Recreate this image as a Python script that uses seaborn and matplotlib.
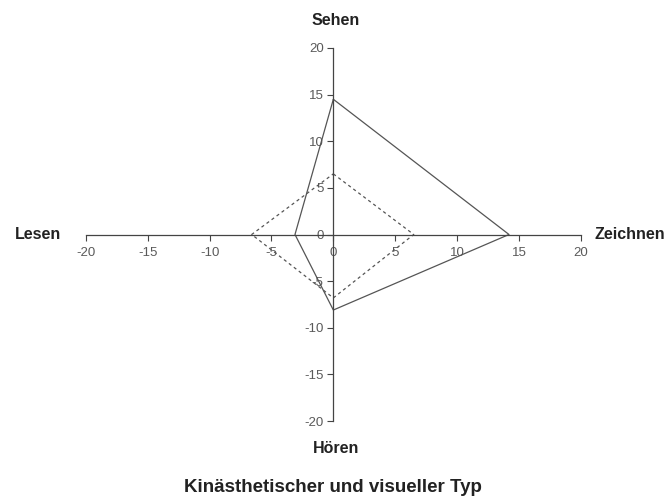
import numpy as np
import pandas as pd
import matplotlib
matplotlib.use('Agg')
import matplotlib.pyplot as plt
import seaborn as sns

# data: four axes of the diagram
categories = ['Sehen', 'Zeichnen', 'Hören', 'Lesen']
kinaesthetisch = [14.5, 14.2, 8.1, 3.1]   # solid line
visuell = [6.5, 6.5, 6.8, 6.6]            # dashed line
ticks = [-20, -15, -10, -5, 0, 5, 10, 15, 20]
title = 'Kinästhetischer und visueller Typ'

# direction of each category axis (up, right, down, left)
dirs = {'Sehen': (0, 1), 'Zeichnen': (1, 0), 'Hören': (0, -1), 'Lesen': (-1, 0)}


def to_frame(values, name):
    rows = []
    for i, (cat, v) in enumerate(zip(categories + categories[:1], values + values[:1])):
        dx, dy = dirs[cat]
        rows.append({'x': dx * v, 'y': dy * v, 'order': i, 'serie': name})
    return pd.DataFrame(rows)


df = pd.concat([to_frame(kinaesthetisch, 'kin'), to_frame(visuell, 'vis')])

sns.set_style('white')
plt.rcParams['font.family'] = ['Liberation Sans', 'DejaVu Sans']
plt.rcParams['axes.unicode_minus'] = False

fig = plt.figure(figsize=(6.66, 5), dpi=100)
ax = fig.add_axes([0.129, 0.158, 0.743, 0.746])

sns.lineplot(data=df[df.serie == 'kin'], x='x', y='y', sort=False, estimator=None,
             color='#555555', linewidth=0.9, ax=ax)
sns.lineplot(data=df[df.serie == 'vis'], x='x', y='y', sort=False, estimator=None,
             color='#555555', linewidth=0.9, linestyle=(0, (2.5, 2.5)), ax=ax)

ax.set_xlim(-20, 20)
ax.set_ylim(-20, 20)
ax.set_xticks(ticks)
ax.set_yticks(ticks)
ax.set_xlabel('')
ax.set_ylabel('')

for s in ['top', 'right']:
    ax.spines[s].set_visible(False)
ax.spines['left'].set_position(('data', 0))
ax.spines['bottom'].set_position(('data', 0))
for s in ['left', 'bottom']:
    ax.spines[s].set_color('#444444')
    ax.spines[s].set_linewidth(0.9)

ax.tick_params(axis='both', direction='out', length=4, width=0.8, color='#444444',
               labelsize=9.5, labelcolor='#5a5a5a', pad=3)
ax.tick_params(axis='x', bottom=True, pad=5)
ax.tick_params(axis='y', left=True)

# category labels at the ends of the axes
lab = dict(fontsize=11.5, fontweight='bold', color='#222222')
ax.text(0.2, 23, 'Sehen', ha='center', va='center', **lab)
ax.text(0.2, -22.9, 'Hören', ha='center', va='center', **lab)
ax.text(-22, 0, 'Lesen', ha='right', va='center', **lab)
ax.text(21.1, 0, 'Zeichnen', ha='left', va='center', **lab)

fig.text(0.5, 0.024, title, ha='center', va='center', fontsize=13.5,
         fontweight='bold', color='#222222')

fig.savefig('out.png', dpi=100)
